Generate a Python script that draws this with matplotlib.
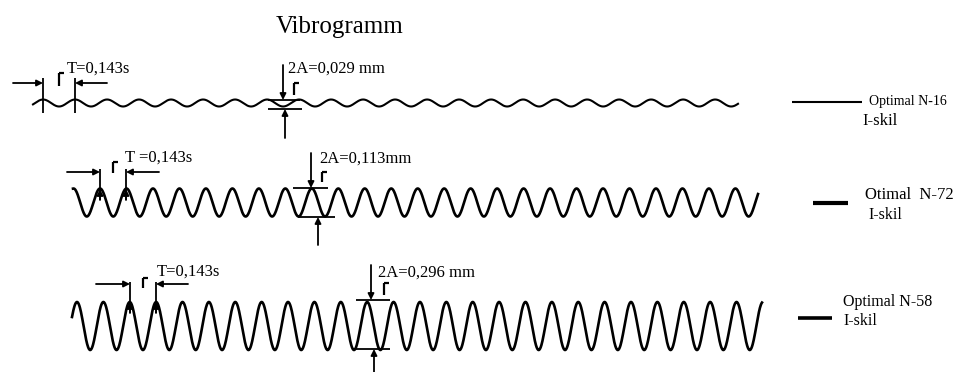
import numpy as np
import matplotlib
matplotlib.use("Agg")
import matplotlib.pyplot as plt

# vibration data
period_s = 0.143
double_amp_mm = [0.029, 0.113, 0.296]
trace_len_s = [3.15, 3.70, 3.74]
first_peak_s = [0.045, 0.003, 0.027]
period_labels = ["T=0,143s", "T =0,143s", "T=0,143s"]
amp_labels = ["2A=0,029 mm", "2A=0,113mm", "2A=0,296 mm"]
legend_names = ["Optimal N-16", "Otimal  N-72", "Optimal N-58"]
legend_sub = ["I-skil", "I-skil", "I-skil"]

W, H = 956, 372
plt.rcParams['font.family'] = ['Liberation Serif', 'DejaVu Serif']

fig = plt.figure(figsize=(W / 100, H / 100), dpi=100)

# pixel layout of each trace: x start, x end, centre y, half height
boxes = [(33, 738, 103, 3.5), (73, 758, 202.5, 14), (72, 762, 326, 24)]
trace_lw = [1.5, 1.9, 1.9]

for i in range(3):
	x0, x1, yc, hh = boxes[i]
	ax = fig.add_axes([x0 / W, (H - (yc + hh)) / H, (x1 - x0) / W, 2 * hh / H])
	A = double_amp_mm[i] / 2
	t = np.linspace(0, trace_len_s[i], 2000)
	y = A * np.cos(2 * np.pi * (t - first_peak_s[i]) / period_s)
	ax.plot(t, y, color='black', lw=trace_lw[i], clip_on=False)
	ax.set_xlim(0, trace_len_s[i])
	ax.set_ylim(-A, A)
	ax.axis('off')

# overlay in pixel coordinates for the hand drawn marks
ov = fig.add_axes([0, 0, 1, 1])
ov.set_xlim(0, W)
ov.set_ylim(H, 0)
ov.axis('off')


def arrow(x0, y0, x1, y1):
	ov.annotate('', xy=(x1, y1), xytext=(x0, y0),
		arrowprops=dict(arrowstyle='-|>', color='black', lw=1.3, mutation_scale=9,
			shrinkA=0, shrinkB=0))


def line(xs, ys, lw=1.3):
	ov.plot(xs, ys, color='black', lw=lw, solid_capstyle='butt')


def gamma(x, y0, y1):
	line([x, x], [y1, y0], lw=1.6)
	line([x, x + 5], [y0, y0], lw=1.6)


ov.text(340, 33, "Vibrogramm", fontsize=18, ha='center', va='baseline')

# period marks: arrow y, left line x, right line x, far left, far right, line top, line bottom
per = [(83, 43, 75, 13, 107, 78, 113), (172, 100, 126, 67, 159, 169, 200), (284, 130, 156, 96, 188, 282, 313)]
per_text = [(67, 73), (125, 161.5), (157, 276)]
per_gamma = [(59, 73, 86), (113, 162, 173), (143, 278, 288)]
for i in range(3):
	ya, xa, xb, fl, fr, yt, yb = per[i]
	arrow(fl, ya, xa, ya)
	arrow(fr, ya, xb, ya)
	line([xa, xa], [yt, yb])
	line([xb, xb], [yt, yb])
	if i > 0:
		arrow(xa, yb, xa, yb - 11)
		arrow(xb, yb, xb, yb - 11)
	ov.text(per_text[i][0], per_text[i][1], period_labels[i], fontsize=12, va='baseline')
	gamma(*per_gamma[i])

# amplitude marks: top arrow x, top arrow start y, top bar y, top bar x range,
# bottom bar y, bottom bar x range, bottom arrow x, bottom arrow start y
amp = [(283, 65, 100, (268, 300), 109, (268, 302), 285, 138),
	(311, 153, 188, (293, 328), 217, (298, 335), 318, 245),
	(371, 265, 300, (356, 390), 349, (356, 390), 374, 372)]
amp_text = [(288, 73), (319, 162.5), (378, 276.5)]
amp_gamma = [(294, 83, 95), (322, 172, 182), (384, 283, 295)]
for i in range(3):
	xt, yt0, ybar, xr, ybar2, xr2, xbt, ybt0 = amp[i]
	arrow(xt, yt0, xt, ybar)
	line(list(xr), [ybar, ybar])
	line(list(xr2), [ybar2, ybar2])
	arrow(xbt, ybt0, xbt, ybar2)
	ov.text(amp_text[i][0], amp_text[i][1], amp_labels[i], fontsize=12, va='baseline')
	gamma(*amp_gamma[i])

# legend entries
leg_line = [((792, 862), 102, 1.5), ((813, 848), 203, 3.0), ((798, 832), 318, 2.6)]
leg_name_pos = [(869, 105, 10), (865, 199, 12), (843, 306, 11.5)]
leg_sub_pos = [(862, 125, 12), (868, 219, 11.5), (843, 325, 11.5)]
for i in range(3):
	xs, yl, lw = leg_line[i]
	line(list(xs), [yl, yl], lw=lw)
	x, y, fs = leg_name_pos[i]
	ov.text(x, y, legend_names[i], fontsize=fs, va='baseline')
	x, y, fs = leg_sub_pos[i]
	ov.text(x, y, legend_sub[i], fontsize=fs, va='baseline')

fig.savefig("out.png", dpi=100, facecolor='white')
